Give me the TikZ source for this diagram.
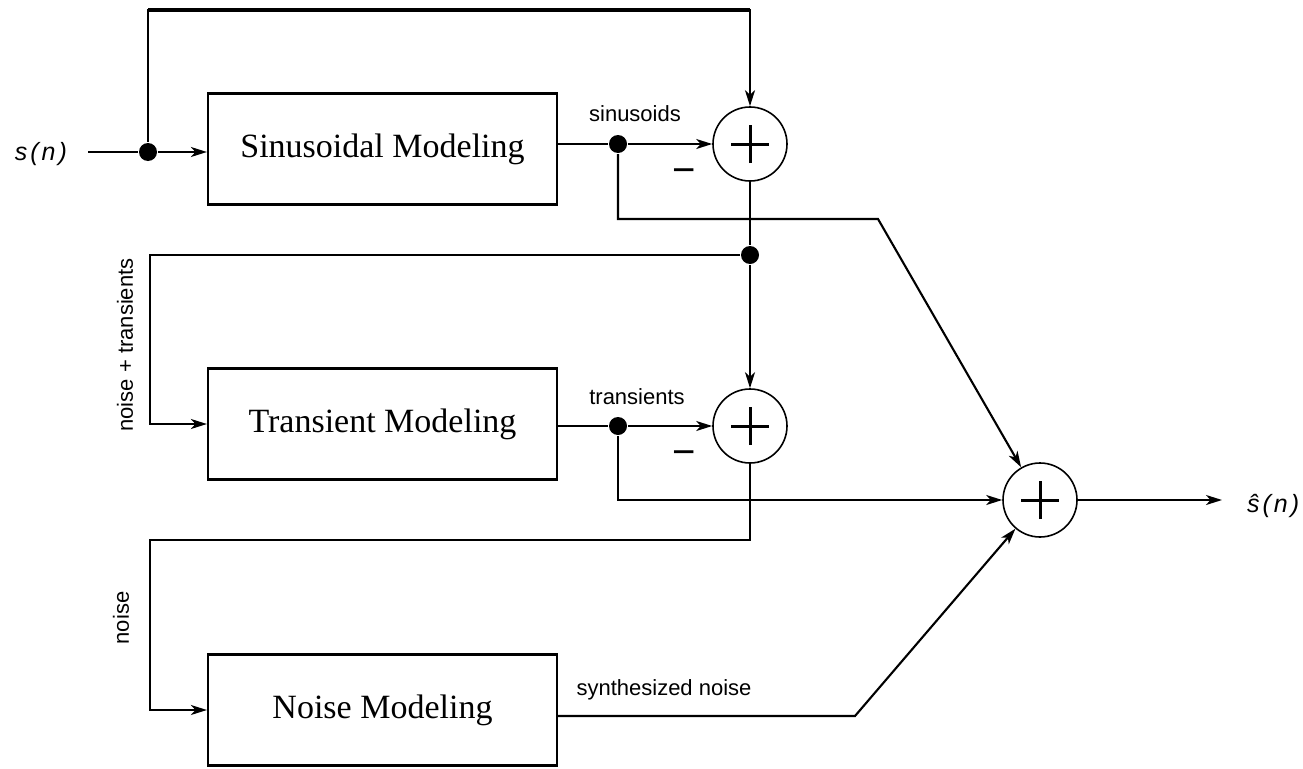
\documentclass[tikz,border=0pt]{standalone}
\usepackage{fontspec}
\setmainfont{Liberation Serif}
\newfontfamily\lblfont{Liberation Sans}
\usetikzlibrary{arrows.meta,calc}

\begin{document}
\begin{tikzpicture}[x=1pt,y=-1pt,
  line width=2.1pt,
  arr/.style={-{Stealth[length=16pt,width=10pt,inset=4.5pt]}},
  block/.style={draw,line width=2.2pt,minimum width=349pt,minimum height=111pt,
    inner sep=0pt,font=\fontsize{34}{40}\selectfont},
  adder/.style={draw,circle,line width=1.6pt,minimum size=74pt,inner sep=0pt,
    path picture={
      \draw[line width=3pt]
        ([xshift=-19pt]path picture bounding box.center) -- ([xshift=19pt]path picture bounding box.center)
        ([yshift=-19pt]path picture bounding box.center) -- ([yshift=19pt]path picture bounding box.center);}},
  tag/.style={font=\lblfont\fontsize{22}{26}\selectfont,inner sep=0pt},
  sig/.style={font=\lblfont\itshape\fontsize{25}{30}\selectfont\addfontfeature{LetterSpace=12},inner sep=0pt},
  junction/.style={circle,fill,minimum size=18pt,inner sep=0pt},
  minus/.style={font=\lblfont\fontsize{40}{44}\selectfont,inner sep=0pt}
]
\useasboundingbox (0,0) rectangle (1303,768);

% processing blocks
\node[block] (sin) at (382.5,149) {Sinusoidal Modeling};
\node[block] (tra) at (382.5,424) {Transient Modeling};
\node[block] (noi) at (382.5,710) {Noise Modeling};

% summing junctions
\node[adder] (s1) at (750,144) {};
\node[adder] (s2) at (750,426) {};
\node[adder] (s3) at (1040,500) {};

% branch points
\node[junction] (j0) at (148,152) {};
\node[junction] (j1) at (618,144) {};
\node[junction] (j2) at (750,255) {};
\node[junction] (j3) at (618,426) {};

% input and output signals
\node[sig,anchor=east] (in) at (68,154) {s(n)};
\node[sig,anchor=base west] (out) at (1246,512) {ŝ(n)};

% routing points
\coordinate (inl) at (88,152);
\coordinate (top) at (750,10);
\coordinate (cross) at (878,219);
\coordinate (k2) at (150,255);
\coordinate (k3) at (150,540);
\coordinate (bend) at (855,716);
\coordinate (outr) at (1222,500);

% input path and feed-forward to the first adder
\draw (inl) -- (j0);
\draw[arr] (j0) -- (sin.west |- j0);
\draw[arr,line width=2.4pt] (j0) |- (top) -- (s1.north);
\draw[line width=4pt] (j0 |- top) -- (top);

% sinusoidal branch
\draw (sin.east |- j1) -- (j1);
\draw[arr] (j1) -- (s1.west);
\draw[arr] (j1) |- (cross) -- (s3);

% residual: noise + transients
\draw (s1.south) -- (j2);
\draw[arr] (j2) -- (s2.north);
\draw[arr] (j2) -- (k2) |- (tra.west);

% transient branch
\draw (tra.east |- j3) -- (j3);
\draw[arr] (j3) -- (s2.west);
\draw[arr] (j3) |- (s3.west);

% residual: noise
\draw[arr] (s2.south) |- (k3) |- (noi.west);

% noise branch
\draw[arr] (noi.east |- bend) -- (bend) -- (s3);

% output
\draw[arr] (s3.east) -- (outr);

% signal labels
\node[tag] at (635,114) {sinusoids};
\node[tag] at (637,397) {transients};
\node[tag] at (664,690) {synthesized noise};
\node[tag,rotate=90] at (125,345) {noise + transients};
\node[tag,rotate=90] at (121,618) {noise};
\node[minus] at (684,176) {−};
\node[minus] at (684,458) {−};
\end{tikzpicture}
\end{document}
